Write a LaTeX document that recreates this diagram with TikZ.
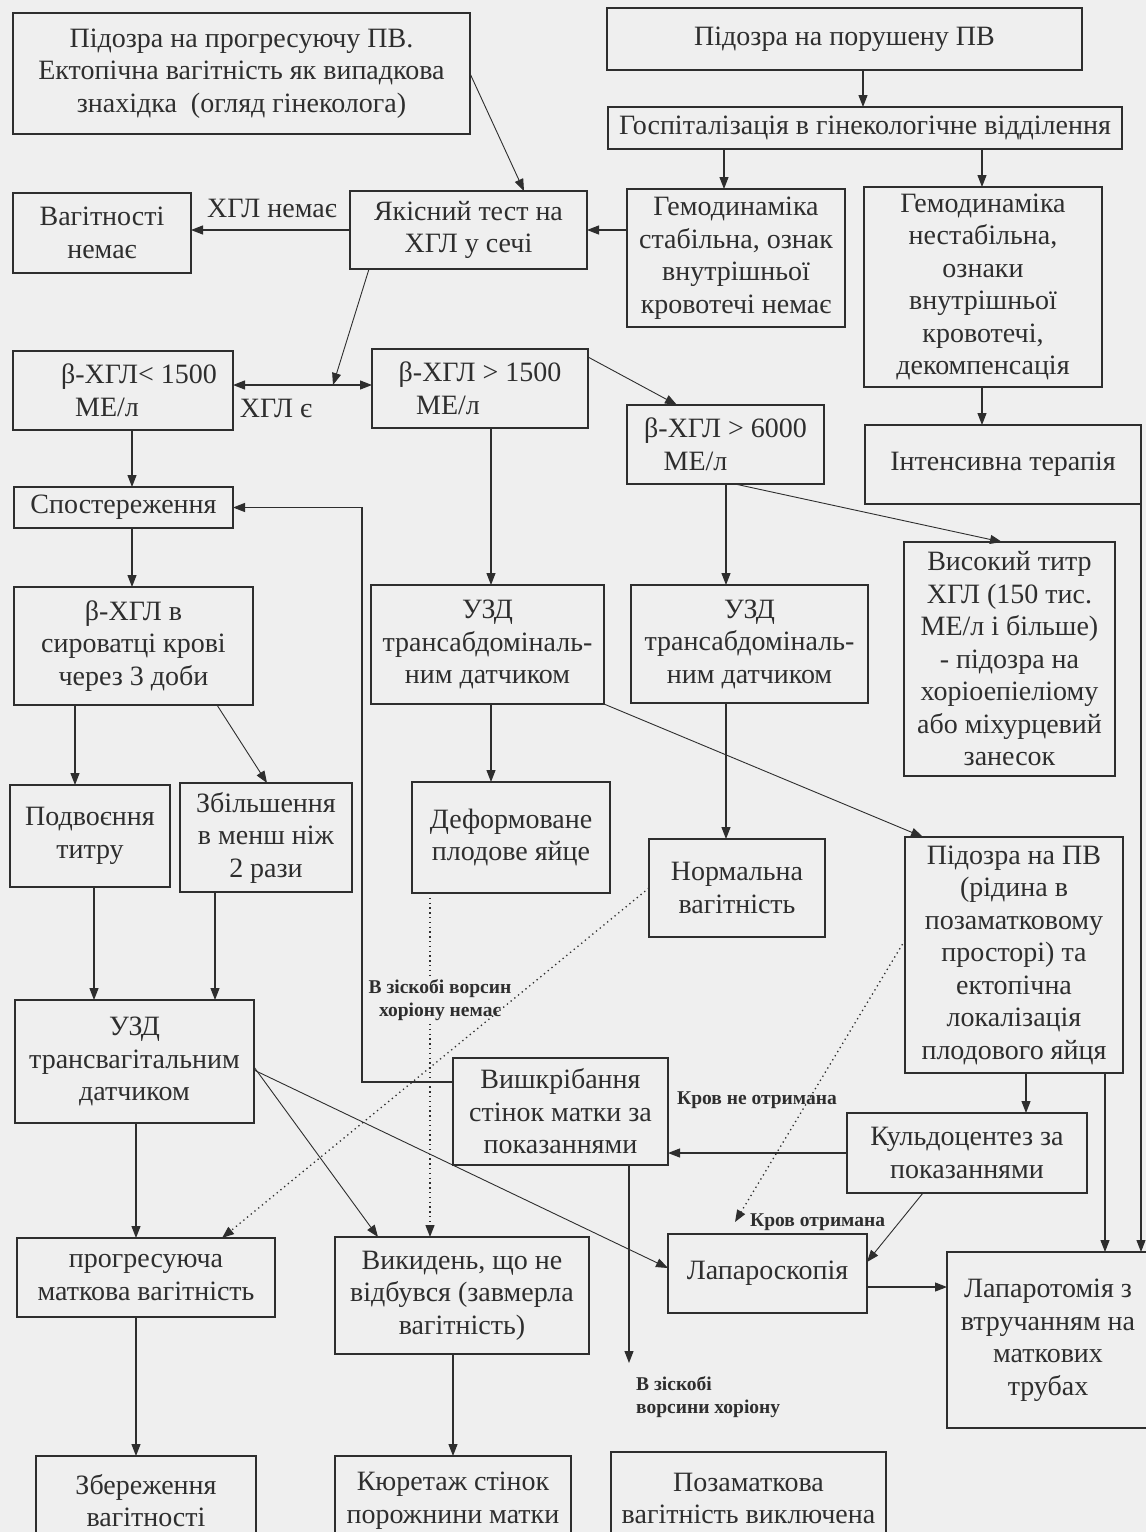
\documentclass[tikz,border=0pt]{standalone}
\usepackage{fontspec}
\setmainfont{Liberation Serif}
\usetikzlibrary{arrows.meta,calc}
\definecolor{ink}{HTML}{2E2E2E}
\definecolor{paper}{HTML}{EFEFEF}
\newcommand\mybox[6]{%
 \pgfmathsetmacro\mbw{#4-#2}%
 \pgfmathsetmacro\mbh{#5-#3}%
 \pgfmathsetmacro\mbx{(#2+#4)/2}%
 \pgfmathsetmacro\mby{(#3+#5)/2}%
 \node[box,minimum width=\mbw pt,minimum height=\mbh pt] (#1) at (\mbx,\mby) {#6};}
\begin{document}
\begin{tikzpicture}[x=1pt,y=-1pt,
 box/.style={draw=ink, line width=1.3pt, inner sep=0pt, outer sep=0pt, align=center, text=ink, font=\fontsize{28}{32.5}\selectfont},
 arr/.style={draw=ink, line width=1.1pt, -{Triangle[length=12pt,width=9pt]}},
 thinarr/.style={draw=ink, line width=0.9pt, -{Triangle[length=12pt,width=9pt]}},
 dots/.style={draw=ink, line width=1.3pt, dash pattern=on 1.3pt off 3.5pt},
 lbl/.style={text=ink, font=\fontsize{28}{32}\selectfont, inner sep=0pt},
 slbl/.style={text=ink, font=\fontsize{19.5}{23}\selectfont\bfseries, inner sep=0pt, align=center}]
\useasboundingbox (0,0) rectangle (1146,1532);
\fill[paper] (0,0) rectangle (1146,1532);

\mybox{A}{13}{13}{470}{134}{Підозра на прогресуючу ПВ.\\Ектопічна вагітність як випадкова\\знахідка~~(огляд гінеколога)}
\mybox{B}{607}{8}{1082}{70}{Підозра на порушену ПВ}
\mybox{C}{608}{107}{1122}{149}{Госпіталізація в гінекологічне відділення}
\mybox{N}{13}{193}{191}{273}{Вагітності\\немає}
\mybox{Q}{350}{191}{587}{269}{Якісний тест на\\ХГЛ у сечі}
\mybox{D}{627}{189}{845}{327}{Гемодинаміка\\стабільна, ознак\\внутрішньої\\кровотечі немає}
\mybox{E}{864}{187}{1102}{387}{Гемодинаміка\\нестабільна,\\ознаки\\внутрішньої\\кровотечі,\\декомпенсація}
\mybox{L}{13}{351}{233}{430}{\mbox{\hspace{32pt}β-ХГЛ< 1500}\\\mbox{МЕ/л\hspace{32pt}}}
\mybox{G}{372}{349}{588}{428}{β-ХГЛ > 1500\\\mbox{МЕ/л\hspace{64pt}}}
\mybox{F}{627}{405}{824}{484}{β-ХГЛ > 6000\\\mbox{МЕ/л\hspace{60pt}}}
\mybox{I}{865}{425}{1141}{504}{Інтенсивна терапія}
\mybox{S}{14}{487}{233}{528}{Спостереження}
\mybox{H}{904}{542}{1115}{776}{Високий титр\\ХГЛ (150 тис.\\МЕ/л і більше)\\- підозра на\\хоріоепіеліому\\або міхурцевий\\занесок}
\mybox{Beta}{14}{587}{253}{705}{β-ХГЛ в\\сироватці крові\\через 3 доби}
\mybox{U1}{371}{585}{604}{704}{УЗД\\трансабдоміналь-\\ним датчиком}
\mybox{U2}{631}{585}{868}{703}{УЗД\\трансабдоміналь-\\ним датчиком}
\mybox{Dbl}{10}{785}{170}{887}{Подвоєння\\титру}
\mybox{Inc}{180}{783}{352}{892}{Збільшення\\в менш ніж\\2 рази}
\mybox{Def}{412}{782}{610}{893}{Деформоване\\плодове яйце}
\mybox{Norm}{649}{839}{825}{937}{Нормальна\\вагітність}
\mybox{PV}{905}{837}{1123}{1073}{Підозра на ПВ\\(рідина в\\позаматковому\\просторі) та\\ектопічна\\локалізація\\плодового яйця}
\mybox{TV}{15}{1000}{254}{1123}{УЗД\\трансвагітальним\\датчиком}
\mybox{Vysh}{453}{1058}{668}{1165}{Вишкрібання\\стінок матки за\\показаннями}
\mybox{Kuld}{847}{1113}{1087}{1193}{Кульдоцентез за\\показаннями}
\mybox{Prog}{17}{1238}{275}{1317}{прогресуюча\\маткова вагітність}
\mybox{Vyk}{335}{1237}{589}{1354}{Викидень, що не\\відбувся (завмерла\\вагітність)}
\mybox{Lap}{668}{1234}{867}{1313}{Лапароскопія}
\mybox{Lapt}{947}{1252}{1149}{1428}{Лапаротомія з\\втручанням на\\маткових\\трубах}
\mybox{Zb}{36}{1456}{256}{1545}{Збереження\\вагітності}
\mybox{Kur}{335}{1456}{571}{1545}{Кюретаж стінок\\порожнини матки}
\mybox{Poz}{611}{1452}{886}{1545}{Позаматкова\\вагітність виключена}

\coordinate (J) at (333,385);
\coordinate (K) at (735,1222);
\coordinate (V) at (629,1363);

% labels
\node[lbl] (l1) at (272,208) {ХГЛ немає};
\node[lbl] (l2) at (276,408) {ХГЛ є};
\node[slbl] (l3) at (440,1000) {В зіскобі ворсин\\хоріону немає};
\node[slbl] (l4) at (757,1100) {Кров не отримана};
\node[slbl,anchor=west] (l5) at (750,1222) {Кров отримана};
\node[slbl,anchor=north west,align=left] (l6) at (636,1376) {В зіскобі\\ворсини хоріону};

% connectors
\draw[thinarr] (A.east) -- (524,0 |- Q.north);
\draw[arr] (863,0 |- B.south) -- (863,0 |- C.north);
\draw[arr] (724,0 |- C.south) -- (724,0 |- D.north);
\draw[arr] (982,0 |- C.south) -- (982,0 |- E.north);
\draw[arr] (D.west |- Q.east) -- (Q.east);
\draw[arr] (Q.west) -- (N.east |- Q.west);
\draw[thinarr] (369,0 |- Q.south) -- (J);
\draw[arr] (J) -- (L.east |- J);
\draw[arr] (J) -- (G.west |- J);
\draw[arr] (132,0 |- L.south) -- (132,0 |- S.north);
\draw[arr] (132,0 |- S.south) -- (132,0 |- Beta.north);
\draw[arr] (Vysh.west |- 0,1082) -- (362,1082) -- (362,0 |- S.east) -- (S.east);
\draw[arr] (491,0 |- G.south) -- (491,0 |- U1.north);
\draw[thinarr] (G.east |- 0,357) -- (677,0 |- F.north);
\draw[arr] (726,0 |- F.south) -- (726,0 |- U2.north);
\draw[thinarr] (735,0 |- F.south) -- (1002,0 |- H.north);
\draw[arr] (982,0 |- E.south) -- (982,0 |- I.north);
\draw[arr] (I.south east) -- (I.south east |- Lapt.north);
\draw[arr] (1105,0 |- PV.south) -- (1105,0 |- Lapt.north);
\draw[arr] (1026,0 |- PV.south) -- (1026,0 |- Kuld.north);
\draw[arr] (Kuld.west |- 0,1153) -- (Vysh.east |- 0,1153);
\draw[thinarr] (923,0 |- Kuld.south) -- (Lap.east |- 0,1262);
\draw[arr] (Lap.east |- 0,1287) -- (Lapt.west |- 0,1287);
\draw[arr] (75,0 |- Beta.south) -- (75,0 |- Dbl.north);
\draw[thinarr] (217,0 |- Beta.south) -- (267,0 |- Inc.north);
\draw[arr] (491,0 |- U1.south) -- (491,0 |- Def.north);
\draw[thinarr] (U1.south east) -- (923,0 |- PV.north);
\draw[arr] (726,0 |- U2.south) -- (726,0 |- Norm.north);
\draw[arr] (94,0 |- Dbl.south) -- (94,0 |- TV.north);
\draw[arr] (215,0 |- Inc.south) -- (215,0 |- TV.north);
\draw[dots] (430,0 |- Def.south) -- (430,976);
\draw[dots,-{Triangle[length=12pt,width=9pt]}] (430,1024) -- (430,0 |- Vyk.north);
\draw[dots,-{Triangle[length=12pt,width=9pt]}] (Norm.west) -- (222,0 |- Prog.north);
\draw[dots,-{Triangle[length=12pt,width=9pt]}] (PV.west |- 0,940) -- (K);
\draw[thinarr] (TV.east |- 0,1067) -- (378,0 |- Vyk.north);
\draw[thinarr] (TV.east |- 0,1070) -- (Lap.west |- 0,1268);
\draw[arr] (136,0 |- TV.south) -- (136,0 |- Prog.north);
\draw[arr] (136,0 |- Prog.south) -- (136,0 |- Zb.north);
\draw[arr] (453,0 |- Vyk.south) -- (453,0 |- Kur.north);
\draw[arr] (629,0 |- Vysh.south) -- (V);
\end{tikzpicture}
\end{document}
